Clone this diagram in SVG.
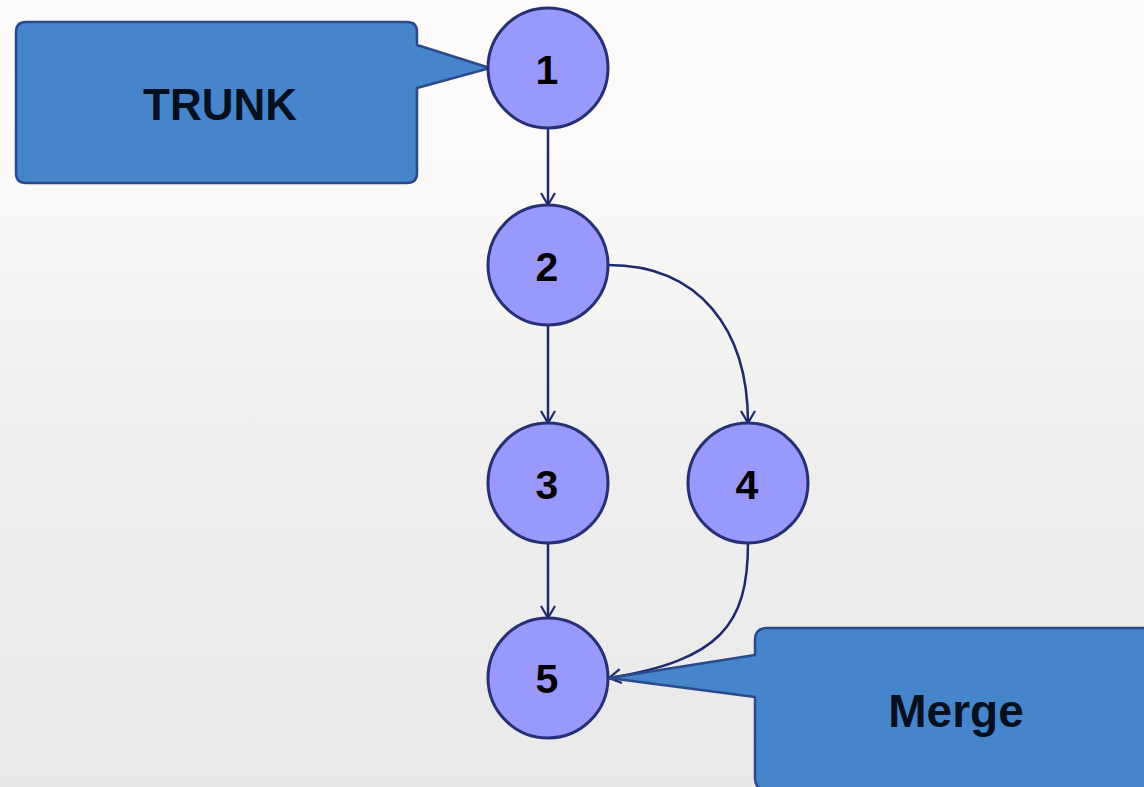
<svg xmlns="http://www.w3.org/2000/svg" width="1144" height="787" viewBox="0 0 1144 787">
  <defs>
    <linearGradient id="bg" x1="0" y1="0" x2="0" y2="1">
      <stop offset="0" stop-color="#fdfcfa"/>
      <stop offset="0.22" stop-color="#fbfaf8"/>
      <stop offset="0.55" stop-color="#efefef"/>
      <stop offset="1" stop-color="#e9e9e9"/>
    </linearGradient>
    <marker id="arrow" viewBox="0 0 14 16" refX="13" refY="8" markerWidth="14" markerHeight="16" markerUnits="userSpaceOnUse" orient="auto">
      <path d="M1,1 L13,8 L1,15" fill="none" stroke="#1f2a6e" stroke-width="2.2"/>
    </marker>
  </defs>
  <style>
    .node circle { fill: #9999fb; stroke: #263175; stroke-width: 3; }
    .node text { font-family: "Liberation Sans", Arial, sans-serif; font-weight: bold; font-size: 41px; fill: #000; text-anchor: middle; }
    .callout path { fill: #4685cb; stroke: #2b4a8c; stroke-width: 2.5; stroke-linejoin: round; }
    .callout text { font-family: "Liberation Sans", Arial, sans-serif; font-weight: bold; fill: #05101f; text-anchor: middle; }
    .edges path { fill: none; stroke: #1f2a6e; stroke-width: 2.5; marker-end: url(#arrow); }
  </style>

  <rect width="1144" height="787" fill="url(#bg)"/>

  <!-- callouts -->
  <g id="trunk-label" class="callout">
    <path d="M26,22 H407 Q417,22 417,32 V45 L490,68 L417,88 V173 Q417,183 407,183 H26 Q16,183 16,173 V32 Q16,22 26,22 Z"/>
    <text x="220" y="120" font-size="44">TRUNK</text>
  </g>

  <!-- connectors -->
  <g id="edges" class="edges">
    <path d="M548,128 V205"/>
    <path d="M548,325 V423"/>
    <path d="M608,265 C700,265 748,330 748,423"/>
    <path d="M548,543 V618"/>
    <path d="M748,543 C748,625 720,660 609,678"/>
  </g>

  <g id="merge-label" class="callout">
    <path d="M767,628 H1150 V790 H767 Q755,790 755,778 V697 L609,678 L755,655 V640 Q755,628 767,628 Z"/>
    <text x="956" y="727" font-size="46">Merge</text>
  </g>

  <!-- nodes -->
  <g id="node1" class="node"><circle cx="548" cy="68" r="60"/><text x="547" y="84">1</text></g>
  <g id="node2" class="node"><circle cx="548" cy="265" r="60"/><text x="547" y="281">2</text></g>
  <g id="node3" class="node"><circle cx="548" cy="483" r="60"/><text x="547" y="499">3</text></g>
  <g id="node4" class="node"><circle cx="748" cy="483" r="60"/><text x="747" y="499">4</text></g>
  <g id="node5" class="node"><circle cx="548" cy="678" r="60"/><text x="547" y="693">5</text></g>
</svg>
